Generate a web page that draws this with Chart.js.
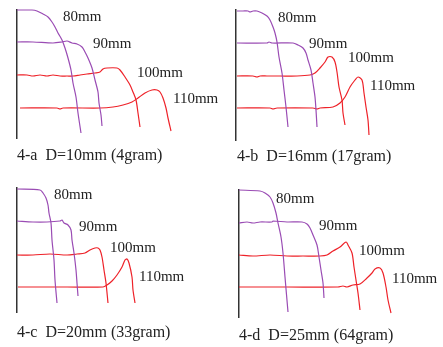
<!DOCTYPE html>
<html><head><meta charset="utf-8">
<script src="https://cdn.jsdelivr.net/npm/chart.js@4.4.1/dist/chart.umd.min.js"></script>
<style>
html,body{margin:0;padding:0;background:#fff;}
#wrap{position:relative;width:443px;height:347px;overflow:hidden;}
canvas{position:absolute;}
.cap{position:absolute;font-family:"Liberation Serif","Times New Roman",serif;font-size:16px;line-height:18px;color:#222;white-space:pre;}
</style></head>
<body><div id="wrap">
<canvas id="ca" style="left:0;top:0;width:220px;height:170px" width="220" height="170"></canvas>
<canvas id="cb" style="left:220px;top:0;width:223px;height:170px" width="223" height="170"></canvas>
<canvas id="cc" style="left:0;top:170px;width:220px;height:177px" width="220" height="177"></canvas>
<canvas id="cd" style="left:220px;top:170px;width:223px;height:177px" width="223" height="177"></canvas>
<div class="cap" style="left:17px;top:146px">4-a  D=10mm (4gram)</div>
<div class="cap" style="left:237px;top:147px">4-b  D=16mm (17gram)</div>
<div class="cap" style="left:17px;top:323px">4-c  D=20mm (33gram)</div>
<div class="cap" style="left:239px;top:326px">4-d  D=25mm (64gram)</div>
</div>
<script>
// Series labels
const seriesNames = ['80mm','90mm','100mm','110mm'];
const panelTitles = ['4-a  D=10mm (4gram)','4-b  D=16mm (17gram)','4-c  D=20mm (33gram)','4-d  D=25mm (64gram)'];

// Panel 4-a (D=10mm)
const a80  = [[0,128],[15,128],[20,127],[26,124],[31,121],[35,116],[38,111],[41,105],[45,98],[48,90],[51,80],[54,68],[56,55],[59,41],[61,25],[64,5]];
const a90  = [[0,96],[16,96],[36,95],[45,96],[50,97],[55,95],[60,94],[65,91],[68,86],[71,80],[75,70],[78,58],[81,46],[82,35],[84,23],[85,12]];
const a100 = [[0,63],[10,63],[16,62],[23,63],[30,62],[36,63],[43,62],[50,62],[56,62],[63,63],[70,64],[78,65],[83,66],[86,69],[90,70],[100,70],[103,68],[108,61],[113,53],[116,46],[119,38],[121,25],[123,11]];
const a110 = [[3,30],[40,30],[43,29],[46,30],[83,30],[96,31],[106,33],[115,36],[121,40],[128,45],[135,48],[140,48],[143,46],[146,40],[149,30],[151,20],[154,7]];

// Panel 4-b (D=16mm)
const b80  = [[1,129],[7,129],[12,129],[14,128],[17,129],[21,129],[26,127],[31,124],[34,120],[37,113],[39,107],[41,98],[43,83],[46,67],[48,50],[50,33],[52,13]];
const b90  = [[1,97],[31,97],[33,98],[36,97],[57,97],[62,95],[67,92],[70,87],[72,80],[75,70],[77,57],[79,43],[80,30],[81,13]];
const b100 = [[1,64],[17,64],[21,63],[24,64],[31,64],[44,64],[61,64],[74,65],[79,67],[84,72],[89,78],[92,83],[96,83],[99,78],[101,68],[103,53],[106,40],[107,27],[109,15]];
const b110 = [[1,32],[34,32],[37,31],[41,32],[77,32],[81,31],[84,32],[97,33],[104,37],[109,43],[114,53],[119,60],[122,63],[126,60],[128,47],[130,33],[132,20],[133,5]];

// Panel 4-c (D=20mm)
const c80  = [[0,123],[23,122],[26,119],[29,114],[31,107],[32,99],[34,89],[35,72],[37,52],[38,32],[40,9]];
const c90  = [[0,91],[16,90],[30,90],[43,91],[45,92],[47,89],[51,87],[54,82],[55,72],[57,59],[59,42],[60,29],[61,16]];
const c100 = [[0,57],[16,57],[33,58],[50,57],[60,58],[68,59],[73,62],[78,64],[81,64],[83,62],[85,55],[87,42],[89,29],[91,9]];
const c110 = [[1,25],[16,25],[50,25],[86,25],[90,27],[95,31],[100,37],[105,45],[108,52],[110,53],[112,49],[115,35],[116,22],[118,9]];

// Panel 4-d (D=25mm)
const d80  = [[0,127],[21,126],[26,124],[31,120],[34,114],[37,104],[39,94],[42,80],[44,64],[46,40],[49,5]];
const d90  = [[0,94],[8,95],[14,94],[21,95],[33,95],[34,96],[48,95],[63,95],[68,93],[71,89],[74,82],[78,72],[80,60],[82,47],[84,34],[85,19]];
const d100 = [[0,62],[14,61],[31,62],[48,61],[64,61],[81,61],[88,62],[94,66],[101,70],[107,75],[109,72],[113,64],[115,50],[117,37],[119,24],[121,7]];
const d110 = [[0,30],[48,30],[99,30],[104,31],[108,30],[114,32],[121,33],[128,39],[133,44],[136,48],[141,49],[144,44],[147,30],[149,17],[152,4]];

const PURPLE = '#9a4cb4';
const RED = '#ee2229';
const colors = [PURPLE, PURPLE, RED, RED];

const panels = [
  {id:'ca', series:[a80,a90,a100,a110], ymax:128, pad:{left:17,top:10,bottom:32,right:3},
   labels:[[46,121],[76,94],[120,65],[156,39]]},
  {id:'cb', series:[b80,b90,b100,b110], ymax:130, pad:{left:16,top:10,bottom:30,right:7},
   labels:[[42,122],[73,96],[112,82],[134,54]]},
  {id:'cc', series:[c80,c90,c100,c110], ymax:124, pad:{left:17,top:18,bottom:35,right:3},
   labels:[[37,117],[62,85],[93,64],[122,35]]},
  {id:'cd', series:[d80,d90,d100,d110], ymax:127, pad:{left:19,top:20,bottom:30,right:4},
   labels:[[37,118],[80,91],[120,66],[153,38]]}
];

const labelPlugin = {
  id:'curveLabels',
  afterDatasetsDraw(chart, args, opts){
    const ctx = chart.ctx, xs = chart.scales.x, ys = chart.scales.y;
    ctx.save();
    ctx.font = '15px "Liberation Serif", "Times New Roman", serif';
    ctx.fillStyle = '#222';
    ctx.textBaseline = 'middle';
    ctx.textAlign = 'left';
    opts.pos.forEach((p,i)=>{
      ctx.fillText(seriesNames[i], xs.getPixelForValue(p[0]), ys.getPixelForValue(p[1]));
    });
    ctx.restore();
  }
};

panels.forEach(p=>{
  new Chart(document.getElementById(p.id), {
    type:'line',
    data:{
      datasets: p.series.map((s,i)=>({
        label: seriesNames[i],
        data: s.map(pt=>({x:pt[0], y:pt[1]})),
        borderColor: colors[i],
        borderWidth: 1.2,
        pointRadius: 0,
        tension: 0.3,
        fill: false,
        clip: false
      }))
    },
    options:{
      responsive:false,
      animation:false,
      devicePixelRatio:1,
      layout:{padding:p.pad},
      plugins:{legend:{display:false}, tooltip:{enabled:false}, title:{display:false},
        curveLabels:{pos:p.labels}},
      scales:{
        x:{type:'linear', min:0, max:200, display:false},
        y:{type:'linear', min:0, max:p.ymax, display:true,
           ticks:{display:false}, grid:{display:false, drawTicks:false},
           border:{display:true, color:'#333', width:1.5}}
      }
    },
    plugins:[labelPlugin]
  });
});
</script>
</body></html>
